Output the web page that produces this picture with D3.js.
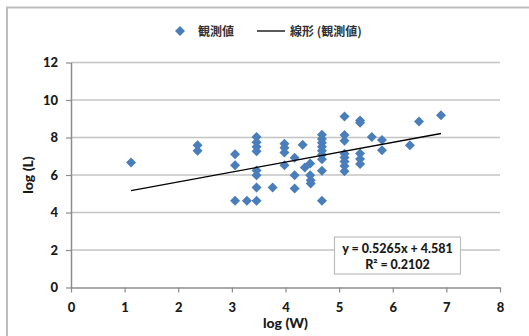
<!DOCTYPE html>
<html>
<head>
<meta charset="utf-8">
<script src="https://cdn.jsdelivr.net/npm/d3@7"></script>
<style>
  html, body { margin: 0; padding: 0; background: #fff; }
  svg { display: block; }
</style>
</head>
<body>
<svg id="chart" width="529" height="336"></svg>
<script>
// Observations: log(W) against log(L)
const logW = [1.12, 2.36, 2.36, 3.06, 3.06, 3.06, 3.28,
  3.46, 3.46, 3.46, 3.46, 3.46, 3.46, 3.46, 3.46,
  3.76, 3.98, 3.98, 3.98, 3.98, 4.17, 4.17, 4.17, 4.32, 4.36,
  4.46, 4.46, 4.47, 4.47,
  4.68, 4.68, 4.68, 4.68, 4.68, 4.68, 4.68, 4.68, 4.68,
  5.10, 5.10, 5.10, 5.10, 5.10, 5.10, 5.10, 5.10,
  5.39, 5.39, 5.39, 5.39, 5.39, 5.61, 5.80, 5.80, 6.32, 6.49, 6.90];
const logL = [6.67, 7.59, 7.29, 7.11, 6.52, 4.62, 4.62,
  8.03, 7.75, 7.50, 7.27, 6.24, 5.99, 5.33, 4.62,
  5.33, 7.66, 7.45, 7.20, 6.52, 6.92, 5.99, 5.28, 7.61, 6.40,
  6.61, 5.99, 5.72, 5.55,
  8.14, 7.92, 7.72, 7.50, 7.29, 7.08, 6.84, 6.22, 4.62,
  9.12, 8.13, 7.82, 7.13, 6.93, 6.72, 6.48, 6.20,
  8.90, 8.78, 7.15, 6.85, 6.58, 8.03, 7.86, 7.32, 7.59, 8.85, 9.19];

// Linear trend (as stated in the label)
const slope = 0.5265;
const intercept = 4.581;
const rSquared = 0.2102;

const xTicks = [0, 1, 2, 3, 4, 5, 6, 7, 8];
const yTicks = [0, 2, 4, 6, 8, 10, 12];

const seriesName = "観測値";
const trendName = "線形 (観測値)";
const xTitle = "log (W)";
const yTitle = "log (L)";

const svg = d3.select("#chart");
const font = "Lato, 'Noto Sans CJK JP', sans-serif";

// Outer chart frame
svg.append("rect")
  .attr("x", 7).attr("y", 7.5)
  .attr("width", 540).attr("height", 350)
  .attr("fill", "#fff")
  .attr("stroke", "#bdbdbd").attr("stroke-width", 2);

const plot = { left: 71, right: 500, top: 62.5, bottom: 287.5 };

const x = d3.scaleLinear().domain([0, 8]).range([plot.left, plot.right]);
const y = d3.scaleLinear().domain([0, 12]).range([plot.bottom, plot.top]);

// Horizontal gridlines
svg.append("g")
  .selectAll("line")
  .data(yTicks.filter(t => t > 0))
  .join("line")
  .attr("x1", plot.left).attr("x2", plot.right)
  .attr("y1", d => y(d)).attr("y2", d => y(d))
  .attr("stroke", "#c4c4c4").attr("stroke-width", 1.5);

// Axes
const yAxis = svg.append("g")
  .attr("transform", `translate(${plot.left},0)`)
  .call(d3.axisLeft(y).tickValues(yTicks).tickSize(5).tickPadding(8).tickSizeOuter(0));
const xAxis = svg.append("g")
  .attr("transform", `translate(0,${plot.bottom})`)
  .call(d3.axisBottom(x).tickValues(xTicks).tickSize(5).tickPadding(8).tickSizeOuter(0));

[xAxis, yAxis].forEach(g => {
  g.select(".domain").attr("stroke", "#8c8c8c").attr("stroke-width", 1.5);
  g.selectAll(".tick line").attr("stroke", "#8c8c8c").attr("stroke-width", 1.2);
  g.selectAll(".tick text")
    .attr("font-family", font).attr("font-size", 13)
    .attr("font-weight", 900).attr("fill", "#1a1a1a");
});
xAxis.selectAll(".tick text").attr("dy", "0.85em");

// Axis titles
svg.append("text")
  .attr("x", (plot.left + plot.right) / 2).attr("y", 328)
  .attr("text-anchor", "middle")
  .attr("font-family", font).attr("font-size", 14).attr("font-weight", 900)
  .attr("fill", "#1a1a1a")
  .text(xTitle);
svg.append("text")
  .attr("transform", `translate(33,${(plot.top + plot.bottom) / 2}) rotate(-90)`)
  .attr("text-anchor", "middle")
  .attr("font-family", font).attr("font-size", 14).attr("font-weight", 900)
  .attr("fill", "#1a1a1a")
  .text(yTitle);

// Data points as diamonds
const diamond = d3.symbol().type(d3.symbolSquare).size(50);
const points = logW.map((w, i) => ({ w, l: logL[i] }));
svg.append("g")
  .selectAll("path")
  .data(points)
  .join("path")
  .attr("d", diamond)
  .attr("transform", d => `translate(${x(d.w)},${y(d.l)}) rotate(45)`)
  .attr("fill", "#4a7ebb");

// Trend line over the data range
const [wMin, wMax] = d3.extent(logW);
const trend = d3.line().x(d => x(d)).y(d => y(slope * d + intercept));
svg.append("path")
  .attr("d", trend([wMin, wMax]))
  .attr("fill", "none")
  .attr("stroke", "#000").attr("stroke-width", 1.3);

// Equation box
const eq = svg.append("g");
eq.append("rect")
  .attr("x", 334.5).attr("y", 237)
  .attr("width", 126).attr("height", 37)
  .attr("fill", "#fff").attr("stroke", "#bdbdbd").attr("stroke-width", 1.2);
eq.append("text")
  .attr("x", 397.5).attr("y", 252.5)
  .attr("text-anchor", "middle")
  .attr("font-family", font).attr("font-size", 12.5).attr("font-weight", 900)
  .attr("fill", "#1a1a1a")
  .text(`y = ${slope}x + ${intercept}`);
eq.append("text")
  .attr("x", 397.5).attr("y", 268.5)
  .attr("text-anchor", "middle")
  .attr("font-family", font).attr("font-size", 12.5).attr("font-weight", 900)
  .attr("fill", "#1a1a1a")
  .text(`R² = ${rSquared}`);

// Legend
const legend = svg.append("g");
legend.append("path")
  .attr("d", diamond)
  .attr("transform", "translate(180,31) rotate(45)")
  .attr("fill", "#4a7ebb");
legend.append("text")
  .attr("x", 198).attr("y", 35.5)
  .attr("font-family", "'Noto Sans CJK JP', sans-serif").attr("font-size", 12)
  .attr("font-weight", "bold").attr("fill", "#333")
  .text(seriesName);
legend.append("line")
  .attr("x1", 257).attr("x2", 285).attr("y1", 31).attr("y2", 31)
  .attr("stroke", "#000").attr("stroke-width", 1.3);
legend.append("text")
  .attr("x", 290).attr("y", 35.5)
  .attr("font-family", "'Noto Sans CJK JP', sans-serif").attr("font-size", 12)
  .attr("font-weight", "bold").attr("fill", "#333")
  .text(trendName);
</script>
</body>
</html>
